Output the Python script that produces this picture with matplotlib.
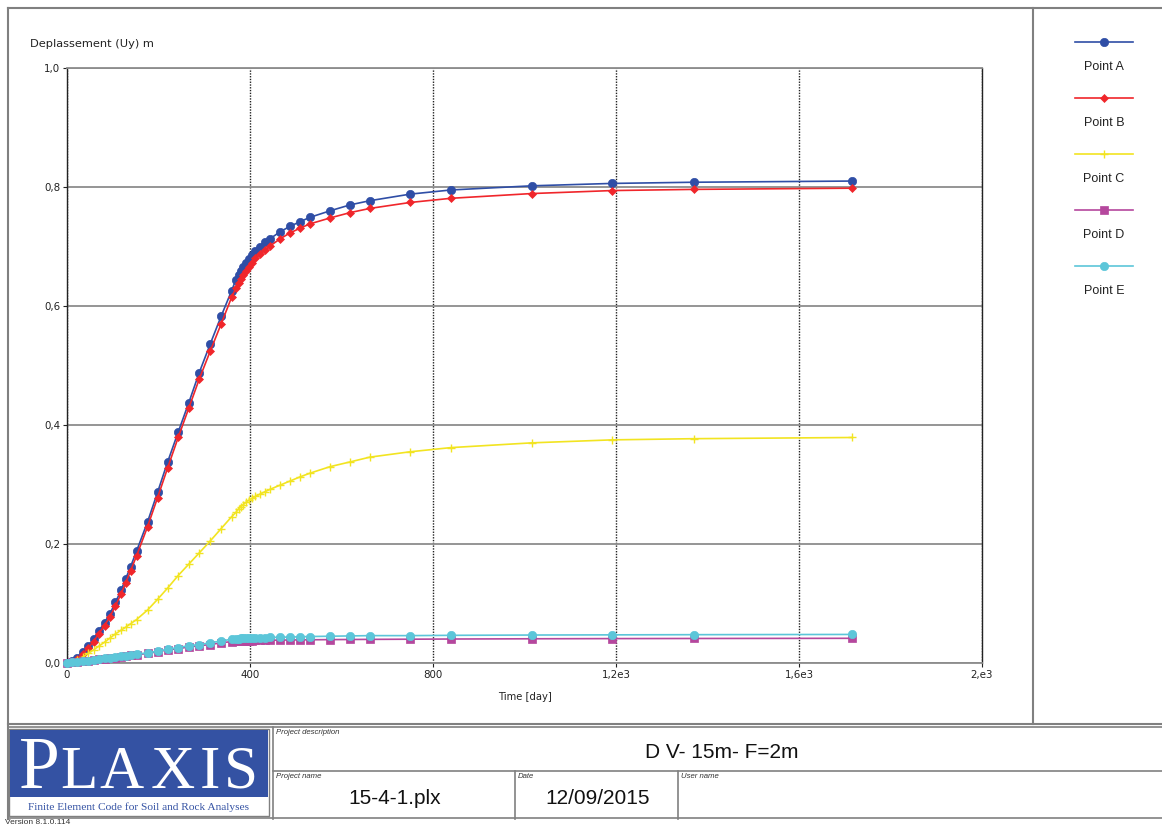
import matplotlib
matplotlib.use("Agg")
import matplotlib.pyplot as plt
from matplotlib.patches import Rectangle

# ---------------- data ----------------
time_days = [0, 10, 21, 34, 46, 58, 69, 82, 94, 106, 118, 128, 139, 152, 176, 198, 220, 243,
             266, 289, 313, 337, 360, 369, 375, 380, 385, 391, 398, 405, 412, 422, 433, 444,
             466, 488, 510, 531, 575, 619, 662, 750, 839, 1016, 1191, 1370, 1716]

point_a = [0.000, 0.003, 0.009, 0.018, 0.028, 0.040, 0.053, 0.068, 0.083, 0.102, 0.122, 0.141,
           0.162, 0.188, 0.237, 0.287, 0.338, 0.388, 0.437, 0.488, 0.536, 0.583, 0.626, 0.644,
           0.652, 0.659, 0.666, 0.673, 0.679, 0.686, 0.693, 0.700, 0.707, 0.713, 0.725, 0.734,
           0.742, 0.749, 0.760, 0.770, 0.777, 0.788, 0.795, 0.802, 0.806, 0.808, 0.810]

point_b = [0.000, 0.002, 0.007, 0.015, 0.025, 0.036, 0.049, 0.063, 0.078, 0.096, 0.116, 0.134,
           0.155, 0.180, 0.229, 0.278, 0.328, 0.379, 0.428, 0.477, 0.524, 0.570, 0.615, 0.630,
           0.638, 0.645, 0.652, 0.659, 0.665, 0.672, 0.680, 0.687, 0.694, 0.701, 0.713, 0.723,
           0.731, 0.738, 0.748, 0.757, 0.764, 0.774, 0.781, 0.789, 0.794, 0.796, 0.798]

point_c = [0.000, 0.002, 0.005, 0.010, 0.016, 0.022, 0.028, 0.035, 0.042, 0.049, 0.055, 0.060,
           0.066, 0.073, 0.089, 0.107, 0.126, 0.147, 0.166, 0.185, 0.205, 0.226, 0.246, 0.253,
           0.259, 0.263, 0.266, 0.270, 0.274, 0.277, 0.280, 0.284, 0.288, 0.292, 0.299, 0.306,
           0.313, 0.319, 0.330, 0.338, 0.346, 0.355, 0.362, 0.370, 0.375, 0.377, 0.379]

point_d = [0.000, 0.001, 0.002, 0.003, 0.004, 0.005, 0.006, 0.007, 0.008, 0.009, 0.010, 0.011,
           0.013, 0.014, 0.016, 0.019, 0.022, 0.024, 0.027, 0.029, 0.031, 0.034, 0.036, 0.0365,
           0.0368, 0.037, 0.0372, 0.0374, 0.0376, 0.0378, 0.038, 0.0381, 0.0382, 0.0383, 0.0385,
           0.0387, 0.0389, 0.039, 0.0393, 0.0395, 0.0397, 0.040, 0.0403, 0.0407, 0.041, 0.0412,
           0.0415]

point_e = [0.000, 0.001, 0.002, 0.003, 0.004, 0.005, 0.006, 0.008, 0.009, 0.010, 0.011, 0.012,
           0.014, 0.015, 0.017, 0.020, 0.023, 0.026, 0.029, 0.031, 0.034, 0.037, 0.040, 0.0405,
           0.041, 0.0413, 0.0415, 0.0417, 0.042, 0.0422, 0.0424, 0.0426, 0.0428, 0.043, 0.0433,
           0.0437, 0.044, 0.0445, 0.045, 0.0455, 0.046, 0.046, 0.0465, 0.047, 0.0473, 0.0476,
           0.048]

series_labels = ["Point A", "Point B", "Point C", "Point D", "Point E"]
series_values = [point_a, point_b, point_c, point_d, point_e]

y_ticks = [0.0, 0.2, 0.4, 0.6, 0.8, 1.0]
y_tick_labels = ["0,0", "0,2", "0,4", "0,6", "0,8", "1,0"]
x_ticks = [0, 400, 800, 1200, 1600, 2000]
x_tick_labels = ["0", "400", "800", "1,2e3", "1,6e3", "2,e3"]

# ---------------- styles ----------------
colors = ["#2f4ea6", "#f0262b", "#f2e421", "#b5479d", "#5cc6d9"]
markers = ["o", "D", "+", "s", "o"]
msizes = [6.0, 4.5, 6.0, 5.5, 6.0]

W, H = 1162, 825
fig = plt.figure(figsize=(W / 100, H / 100), dpi=100)
fig.patch.set_facecolor("white")

bg = fig.add_axes([0, 0, 1, 1])
bg.set_xlim(0, W)
bg.set_ylim(H, 0)
bg.axis("off")


def px_axes(x0, y0, x1, y1):
    return fig.add_axes([x0 / W, 1 - y1 / H, (x1 - x0) / W, (y1 - y0) / H])


frame_c = "#808080"
# page frame
bg.plot([8, 8], [8, 819], color=frame_c, lw=1.5)
bg.plot([8, W], [8, 8], color=frame_c, lw=1.5)
bg.plot([1033, 1033], [8, 724], color=frame_c, lw=1.5)
bg.plot([8, W], [724, 724], color=frame_c, lw=1.5)
# title block
bg.plot([8, W], [727, 727], color=frame_c, lw=1.2)
bg.plot([273, 273], [727, 819], color=frame_c, lw=1.2)
bg.plot([273, W], [771, 771], color=frame_c, lw=1.2)
bg.plot([515, 515], [771, 819], color=frame_c, lw=1.2)
bg.plot([678, 678], [771, 819], color=frame_c, lw=1.2)
bg.plot([8, W], [818, 818], color=frame_c, lw=1.2)

# logo
bg.add_patch(Rectangle((9, 729), 260, 87, facecolor="white", edgecolor=frame_c, lw=1.0))
bg.add_patch(Rectangle((10, 730), 258, 67, facecolor="#3452a3", edgecolor="none"))
logo_font = dict(family="Liberation Serif", color="white", va="baseline", ha="center")
bg.text(39, 788, "P", fontsize=53, **logo_font)
for ch, cx in zip("LAXIS", [79, 122, 173, 210, 241]):
    bg.text(cx, 788, ch, fontsize=44, **logo_font)
bg.text(138, 807, "Finite Element Code for Soil and Rock Analyses", family="Liberation Serif",
        fontsize=8.2, color="#3452a3", ha="center", va="center")
bg.text(5, 822, "Version 8.1.0.114", family="Liberation Sans", fontsize=6, color="#333", va="center")

small = dict(family="Liberation Sans", fontsize=5.6, style="italic", color="#333", va="top")
bg.text(276, 729, "Project description", **small)
bg.text(276, 773, "Project name", **small)
bg.text(518, 773, "Date", **small)
bg.text(681, 773, "User name", **small)
big = dict(family="Liberation Sans", fontsize=15, color="#111", va="center", ha="center")
bg.text(722, 753, "D V- 15m- F=2m", **big)
bg.text(395, 799, "15-4-1.plx", **big)
bg.text(598, 799, "12/09/2015", **big)

# axis labels
bg.text(30, 44, "Deplassement (Uy) m", family="DejaVu Sans", fontsize=8.2, color="#222", va="center")
bg.text(525, 697, "Time [day]", family="DejaVu Sans", fontsize=7.2, color="#222", va="center", ha="center")

# ---------------- chart ----------------
ax = px_axes(67, 68, 982, 663)
ax.set_xlim(0, 2000)
ax.set_ylim(0, 1.0)
ax.set_xticks(x_ticks)
ax.set_xticklabels(x_tick_labels)
ax.set_yticks(y_ticks)
ax.set_yticklabels(y_tick_labels)
ax.tick_params(direction="out", length=3, width=0.8, labelsize=7.4, colors="#222", pad=2)
for lab in ax.get_xticklabels() + ax.get_yticklabels():
    lab.set_family("DejaVu Sans")
ax.xaxis.grid(True, linestyle=(0, (1, 1)), color="#222", lw=1.0)
ax.yaxis.grid(True, linestyle="-", color="#8c8c8c", lw=1.3)
ax.set_axisbelow(True)
for side in ["left", "right"]:
    ax.spines[side].set_linestyle((0, (1, 1)))
    ax.spines[side].set_color("#222")
    ax.spines[side].set_linewidth(1.0)
for side in ["top", "bottom"]:
    ax.spines[side].set_color("#8c8c8c")
    ax.spines[side].set_linewidth(1.3)

for vals, lab, c, m, ms in zip(series_values, series_labels, colors, markers, msizes):
    ax.plot(time_days, vals, color=c, marker=m, markersize=ms, lw=1.2, label=lab,
            markeredgewidth=1.0 if m == "+" else 0.5, clip_on=False, zorder=3)

# ---------------- legend ----------------
lg = px_axes(1036, 10, W, 320)
lg.set_xlim(1036, W)
lg.set_ylim(320, 10)
lg.axis("off")
line_y = [42, 98, 154, 210, 266]
for yy, lab, c, m, ms in zip(line_y, series_labels, colors, markers, msizes):
    lg.plot([1075, 1133], [yy, yy], color=c, lw=1.2)
    lg.plot([1104], [yy], color=c, marker=m, markersize=ms, markeredgewidth=1.0 if m == "+" else 0.5)
    lg.text(1104, yy + 25, lab, family="Liberation Sans", fontsize=9, color="#222",
            ha="center", va="center")

fig.savefig("out.png", dpi=100, facecolor="white")
